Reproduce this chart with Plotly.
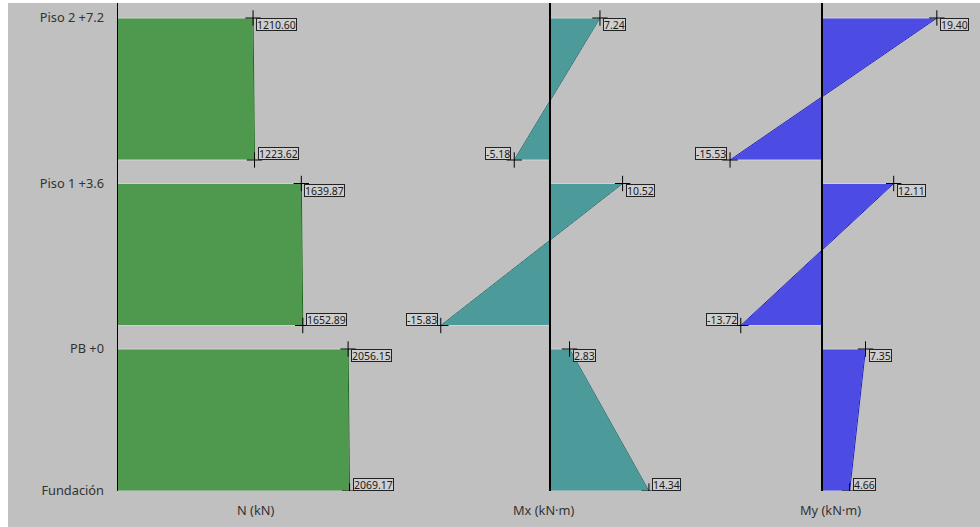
import plotly.graph_objects as go

# Column internal forces per storey segment (top value, bottom value)
levels = ["Piso 2 +7.2", "Piso 1 +3.6", "PB +0", "Fundación"]
n_top = [1210.60, 1639.87, 2056.15]
n_bot = [1223.62, 1652.89, 2069.17]
mx_top = [7.24, 10.52, 2.83]
mx_bot = [-5.18, -15.83, 14.34]
my_top = [19.40, 12.11, 7.35]
my_bot = [-15.53, -13.72, 4.66]
titles = ["N (kN)", "Mx (kN·m)", "My (kN·m)"]

W, H = 980, 527
SEG_H = 1.0      # drawn height of one storey segment
GAP = 0.1655     # vertical gap between segments
FONT = "Noto Sans"

panels = [
    dict(ax="x", top=n_top, bot=n_bot, fill="rgb(79,153,79)", edge="rgb(30,105,30)",
         dom=[117 / W, 393 / W], rng=[0, 276 / 0.1124]),
    dict(ax="x2", top=mx_top, bot=mx_bot, fill="rgb(77,154,154)", edge="rgb(40,115,115)",
         dom=[393 / W, 693 / W], rng=[-157 / 6.9, 143 / 6.9]),
    dict(ax="x3", top=my_top, bot=my_bot, fill="rgb(76,76,228)", edge="rgb(30,30,190)",
         dom=[693 / W, 968 / W], rng=[-129 / 5.92, 146 / 5.92]),
]

fig = go.Figure()
annotations = []
shapes = []

seg_tops = [k * (SEG_H + GAP) for k in range(len(n_top))]
seg_bots = [t + SEG_H for t in seg_tops]

for p in panels:
    for yt, yb, vt, vb in zip(seg_tops, seg_bots, p["top"], p["bot"]):
        # filled diagram of the segment
        fig.add_trace(go.Scatter(
            x=[0, vt, vb, 0, 0], y=[yt, yt, yb, yb, yt],
            xaxis=p["ax"], yaxis="y", mode="lines", fill="toself",
            fillcolor=p["fill"], line=dict(color="rgba(215,215,215,0.9)", width=1),
            hoverinfo="skip", showlegend=False,
        ))
        # diagram edge
        fig.add_trace(go.Scatter(
            x=[vt, vb], y=[yt, yb], xaxis=p["ax"], yaxis="y", mode="lines",
            line=dict(color=p["edge"], width=1), hoverinfo="skip", showlegend=False,
        ))
        # end markers
        fig.add_trace(go.Scatter(
            x=[vt, vb], y=[yt, yb], xaxis=p["ax"], yaxis="y", mode="markers",
            marker=dict(symbol="cross-thin", size=11, line=dict(color="black", width=1)),
            hoverinfo="skip", showlegend=False,
        ))
        # value boxes
        for v, y, ya in ((vt, yt, "top"), (vb, yb, "bottom")):
            annotations.append(dict(
                x=v, y=y, xref=p["ax"], yref="y", text=f"{v:.2f}", showarrow=False,
                xanchor="left" if v >= 0 else "right", yanchor=ya,
                xshift=3 if v >= 0 else -3, height=11,
                font=dict(family=FONT, size=10.5, color="#1a1a1a"),
                bgcolor="#cfcfcf", bordercolor="#222222", borderwidth=1, borderpad=0,
            ))
    # zero axis of each panel
    shapes.append(dict(type="line", xref=p["ax"], yref="paper", x0=0, x1=0, y0=0, y1=1,
                       line=dict(color="black", width=2)))

for i, t in enumerate(titles):
    annotations.append(dict(
        x=0.5, y=0, xref=("x" if i == 0 else f"x{i + 1}") + " domain", yref="paper",
        text=t, showarrow=False, yanchor="middle", yshift=-19,
        font=dict(family=FONT, size=12.8, color="#333333"),
    ))

# white frame strips at top and left
top_m, bot_m = 3, 36
ph = H - top_m - bot_m
shapes.append(dict(type="rect", xref="paper", yref="paper", x0=0, x1=1,
                   y0=1, y1=1 + top_m / ph + 0.01, fillcolor="white", line=dict(width=0)))
shapes.append(dict(type="rect", xref="paper", yref="paper", x0=0, x1=8 / W,
                   y0=-bot_m / ph - 0.01, y1=1 + top_m / ph + 0.01,
                   fillcolor="white", line=dict(width=0)))

tickvals = seg_tops + [seg_bots[-1]]
y_top = -15 / 142
y_bot = seg_bots[-1]

hidden = dict(showgrid=False, zeroline=False, showticklabels=False, showline=False,
              ticks="", fixedrange=True)
fig.update_layout(
    width=W, height=H,
    margin=dict(l=0, r=0, t=top_m, b=bot_m, pad=0),
    paper_bgcolor="#c0c0c0", plot_bgcolor="#c0c0c0",
    xaxis=dict(domain=panels[0]["dom"], range=panels[0]["rng"], anchor="y", **hidden),
    xaxis2=dict(domain=panels[1]["dom"], range=panels[1]["rng"], anchor="y", **hidden),
    xaxis3=dict(domain=panels[2]["dom"], range=panels[2]["rng"], anchor="y", **hidden),
    yaxis=dict(range=[y_bot, y_top], tickvals=tickvals, ticktext=levels,
               showgrid=False, zeroline=False, showline=False, ticks="",
               ticklabelstandoff=12, anchor="x", fixedrange=True,
               tickfont=dict(family=FONT, size=12.8, color="#333333")),
    annotations=annotations, shapes=shapes, showlegend=False,
)

fig.write_html("out.html", config={"displayModeBar": False})
